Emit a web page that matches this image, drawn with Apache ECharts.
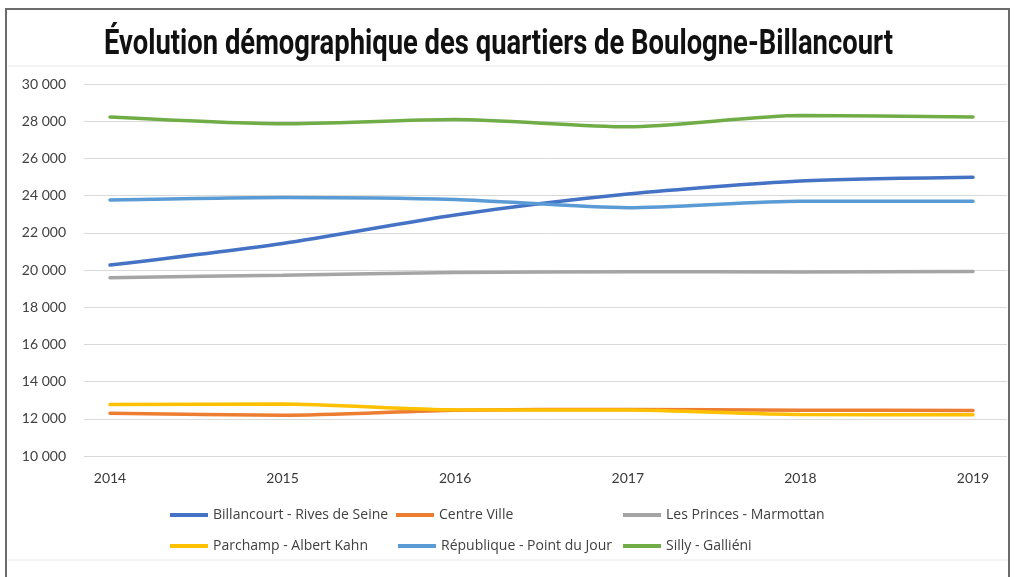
<!DOCTYPE html>
<html>
<head>
<meta charset="utf-8">
<script src="https://cdn.jsdelivr.net/npm/echarts@6/dist/echarts.min.js"></script>
<style>
  html, body { margin: 0; padding: 0; background: #fff; }
  #chart { width: 1017px; height: 577px; }
</style>
</head>
<body>
<div id="chart"></div>
<script>
// données
var years = ['2014', '2015', '2016', '2017', '2018', '2019'];
var billancourt = [20270, 21430, 22960, 24080, 24780, 24980];
var centreVille = [12300, 12190, 12460, 12500, 12460, 12450];
var lesPrinces = [19590, 19720, 19860, 19910, 19890, 19920];
var parchamp = [12770, 12790, 12480, 12470, 12230, 12220];
var republique = [23760, 23900, 23790, 23350, 23700, 23700];
var silly = [28220, 27860, 28090, 27700, 28300, 28230];
var names = ['Billancourt - Rives de Seine', 'Centre Ville', 'Les Princes - Marmottan',
             'Parchamp - Albert Kahn', 'République - Point du Jour', 'Silly - Galliéni'];
var colors = ['#4472C4', '#ED7D31', '#A5A5A5', '#FFC000', '#5B9BD5', '#70AD47'];
var yTicks = [10000, 30000, 2000]; // min, max, interval

var title = 'Évolution démographique des quartiers de Boulogne-Billancourt';
var titleFont = 'bold 35px Roboto';

var chart = echarts.init(document.getElementById('chart'));

// largeur du titre -> compression horizontale
var ctx = document.createElement('canvas').getContext('2d');
ctx.font = titleFont;
var titleScale = 789 / ctx.measureText(title).width;

var allData = [billancourt, centreVille, lesPrinces, parchamp, republique, silly];
var series = [];
for (var i = 0; i < allData.length; i++) {
    series.push({
        name: names[i],
        type: 'line',
        xAxisIndex: 1,
        yAxisIndex: 1,
        data: allData[i],
        smooth: 0.25,
        showSymbol: false,
        lineStyle: { width: 3.5, color: colors[i], cap: 'round' },
        itemStyle: { color: colors[i] }
    });
}

// une légende par item (2 lignes x 3 colonnes)
var legendPos = [[170, 508], [396, 508], [623, 508], [170, 539], [398, 539], [623, 539]];
var legends = [];
for (var j = 0; j < names.length; j++) {
    legends.push({
        data: [names[j]],
        left: legendPos[j][0],
        top: legendPos[j][1],
        padding: 0,
        icon: 'rect',
        itemWidth: 38,
        itemHeight: 4,
        selectedMode: false,
        textStyle: { fontFamily: 'Open Sans', fontSize: 14, color: '#404040' }
    });
}

var option = {
    backgroundColor: '#fff',
    animation: false,
    graphic: [
        { type: 'rect', shape: { x: 6, y: 9, width: 1003, height: 600 },
          style: { fill: null, stroke: '#6b6b6b', lineWidth: 2 } },
        { type: 'line', shape: { x1: 8, y1: 66, x2: 1008, y2: 66 },
          style: { stroke: '#e8e8e8', lineWidth: 1 } },
        { type: 'line', shape: { x1: 8, y1: 560, x2: 1008, y2: 560 },
          style: { stroke: '#e8e8e8', lineWidth: 1 } },
        { type: 'text', x: 104, y: 63, scaleX: titleScale,
          style: { text: title, font: titleFont, fill: '#111', textVerticalAlign: 'bottom' } }
    ],
    legend: legends,
    grid: [
        { left: 84, right: 10, top: 84, bottom: 121 },
        { left: 110, right: 44, top: 84, bottom: 121 }
    ],
    xAxis: [
        { gridIndex: 0, type: 'value', show: false, min: 0, max: 1 },
        {
            gridIndex: 1, type: 'category', data: years, boundaryGap: false,
            axisLine: { show: false }, axisTick: { show: false }, splitLine: { show: false },
            axisLabel: { margin: 15, fontFamily: 'Lato', fontSize: 14, color: '#3a3a3a' }
        }
    ],
    yAxis: [
        {
            gridIndex: 0, type: 'value', min: yTicks[0], max: yTicks[1], interval: yTicks[2],
            axisLine: { show: false }, axisTick: { show: false },
            splitLine: { lineStyle: { color: '#d9d9d9', width: 1 } },
            axisLabel: {
                margin: 18, fontFamily: 'Lato', fontSize: 14, color: '#404040',
                formatter: function (v) {
                    return String(v).replace(/\B(?=(\d{3})+(?!\d))/g, ' ');
                }
            }
        },
        { gridIndex: 1, type: 'value', min: yTicks[0], max: yTicks[1], show: false }
    ],
    series: series
};

chart.setOption(option);
</script>
</body>
</html>
